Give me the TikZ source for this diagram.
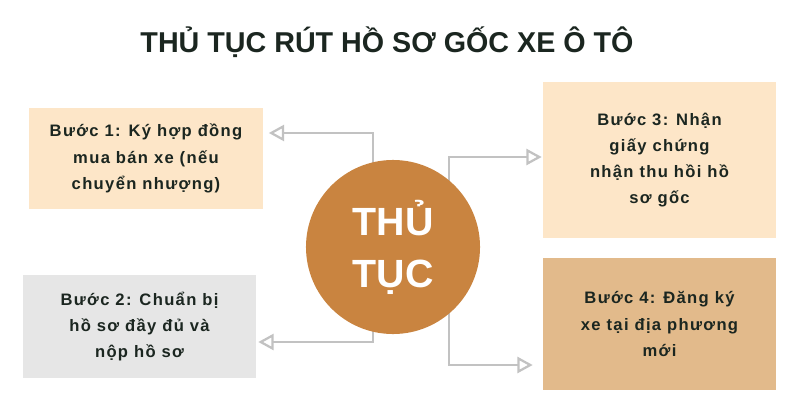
\documentclass[tikz,border=0pt]{standalone}
\usepackage{fontspec}
\setmainfont{Liberation Sans}
\newfontfamily\boxfont[LetterSpace=8]{Liberation Sans}
\usetikzlibrary{arrows.meta,calc,backgrounds}
\definecolor{peach}{HTML}{FDE6C8}
\definecolor{lightgray}{HTML}{E6E6E6}
\definecolor{tan}{HTML}{E2BA8B}
\definecolor{rust}{HTML}{C98440}
\definecolor{linegray}{HTML}{C2C2C2}
\definecolor{ink}{HTML}{1B2620}

\begin{document}
\begin{tikzpicture}[x=0.025cm, y=-0.025cm,
    stepbox/.style={font=\boxfont\bfseries\fontsize{11.8}{18.6}\selectfont, text=ink,
        align=center, minimum width=5.825cm, inner sep=0pt},
    conn/.style={draw=linegray, line width=1.6pt,
        -{Triangle[open, length=3.8mm, width=4mm]}}]
        % Page
        \useasboundingbox (0,0) rectangle (800,400);
        % Title
        \node (title) [font=\bfseries\fontsize{20.4}{24}\selectfont, text=ink] at (387,42)
            {THỦ TỤC RÚT HỒ SƠ GỐC XE Ô TÔ};
        % Centre circle
        \node (circ) [circle, fill=rust, minimum size=4.35cm, inner sep=0pt, text=white,
            align=center, font=\bfseries\fontsize{28}{37}\selectfont] at (393,247)
            {THỦ\\TỤC};
        % Steps
        \node (s1) [stepbox, fill=peach, minimum height=2.525cm] at (146,158.5)
            {Bước 1: Ký hợp đồng\\mua bán xe (nếu\\chuyển nhượng)};
        \node (s2) [stepbox, fill=lightgray, minimum height=2.575cm] at (139.5,326.5)
            {Bước 2: Chuẩn bị\\hồ sơ đầy đủ và\\nộp hồ sơ};
        \node (s3) [stepbox, fill=peach, minimum height=3.9cm] at (659.5,160)
            {Bước 3: Nhận\\giấy chứng\\nhận thu hồi hồ\\sơ gốc};
        \node (s4) [stepbox, fill=tan, minimum height=3.3cm] at (659.5,324)
            {Bước 4: Đăng ký\\xe tại địa phương\\mới};
        % Connectors, behind the circle
        \begin{scope}[on background layer]
        \draw [conn] ([xshift=-0.5cm]circ.center) |- ($(s1.east)+(6,-25.5)$);
        \draw [conn] ([xshift=-0.5cm]circ.center) |- ($(s2.east)+(2,15.5)$);
        \draw [conn] ([xshift=1.4cm]circ.center) |- ($(s3.west)+(-1,-3)$);
        \draw [conn] ([xshift=1.4cm]circ.center) |- ($(s4.west)+(-10,41)$);
        \end{scope}
\end{tikzpicture}
\end{document}
